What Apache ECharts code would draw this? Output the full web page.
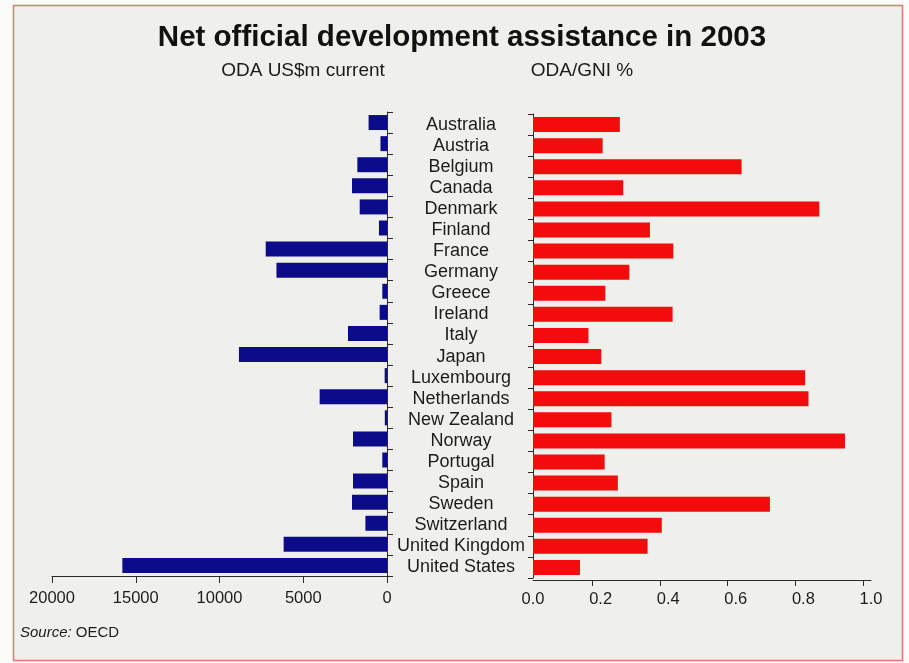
<!DOCTYPE html>
<html><head><meta charset="utf-8">
<script src="https://cdn.jsdelivr.net/npm/echarts@6/dist/echarts.min.js"></script>
<style>html,body{margin:0;padding:0;background:#fafaf8}#c{width:909px;height:663px}</style>
</head><body><div id="c"></div>
<script>
const countries = ["Australia","Austria","Belgium","Canada","Denmark","Finland","France","Germany","Greece","Ireland","Italy","Japan","Luxembourg","Netherlands","New Zealand","Norway","Portugal","Spain","Sweden","Switzerland","United Kingdom","United States"];
const odaUSDm = [1100,390,1770,2090,1630,480,7240,6600,280,440,2330,8840,140,4020,130,2030,280,2030,2090,1290,6170,15800];
const odaGNI = [0.257,0.206,0.617,0.267,0.847,0.346,0.415,0.285,0.214,0.413,0.164,0.202,0.805,0.815,0.232,0.923,0.212,0.251,0.701,0.381,0.339,0.139];
const odaAxisTicks = [0,5000,10000,15000,20000];
const gniAxisLabels = [0,0.2,0.4,0.6,0.8,1.0];
const gniAxisTickMarks = [0.176,0.376,0.576,0.776,0.976];

const chart = echarts.init(document.getElementById('c'), null, {renderer:'canvas'});
const FONT = '"Liberation Sans", Arial, Helvetica, sans-serif';
const axisCol = '#2a2a2a';
const txtCol = '#1c1c1c';

chart.setOption({
  backgroundColor: 'transparent',
  animation: false,
  textStyle: {fontFamily: FONT},
  graphic: [
    {type:'rect', z:-100, silent:true, shape:{x:13.5,y:5.5,width:889,height:655},
     style:{fill:'#efefeb', stroke:'#e07a70', lineWidth:1.5}},
    {type:'text', x:462, y:38, style:{text:'Net official development assistance in 2003', fontFamily:FONT, fontSize:29.5, fontWeight:'bold', fill:'#111', align:'center', verticalAlign:'middle'}},
    {type:'text', x:303, y:71, style:{text:'ODA US$m current', fontFamily:FONT, fontSize:19, fill:txtCol, align:'center', verticalAlign:'middle'}},
    {type:'text', x:582, y:71, style:{text:'ODA/GNI %', fontFamily:FONT, fontSize:19, fill:txtCol, align:'center', verticalAlign:'middle'}},
    {type:'text', x:20, y:633, style:{text:'{i|Source:} OECD', fontFamily:FONT, fontSize:15, fill:txtCol, verticalAlign:'middle',
      rich:{i:{fontStyle:'italic', fontFamily:FONT, fontSize:15, fill:txtCol}}}}
  ],
  grid: [
    {left:52, width:335, top:112, height:464},
    {left:533, width:338, top:114, height:464}
  ],
  xAxis: [
    {type:'value', gridIndex:0, inverse:true, min:odaAxisTicks[0], max:odaAxisTicks[odaAxisTicks.length-1], interval:5000,
     axisLine:{show:true, lineStyle:{color:axisCol, width:1}},
     axisTick:{show:true, length:7, lineStyle:{color:axisCol}},
     axisLabel:{fontSize:16.5, color:txtCol, margin:14, fontFamily:FONT, formatter: v => String(v)},
     splitLine:{show:false}},
    {type:'value', gridIndex:1, min:0, max:1, interval:0.2, offset:2,
     axisLine:{show:true, lineStyle:{color:axisCol, width:1}},
     axisTick:{show:true, length:6, lineStyle:{color:axisCol}, customValues: gniAxisTickMarks},
     axisLabel:{fontSize:16.5, color:txtCol, margin:11, fontFamily:FONT, customValues: gniAxisLabels,
       formatter: v => Number(v).toFixed(1)},
     splitLine:{show:false}}
  ],
  yAxis: [
    {type:'category', gridIndex:0, data:countries, inverse:true, position:'right',
     axisLine:{show:true, lineStyle:{color:axisCol, width:1}},
     axisTick:{show:true, length:6, interval:0, lineStyle:{color:axisCol}},
     axisLabel:{show:false, interval:0}},
    {type:'category', gridIndex:1, data:countries, inverse:true, position:'left',
     axisLine:{show:true, lineStyle:{color:axisCol, width:1}},
     axisTick:{show:true, length:5, interval:0, lineStyle:{color:axisCol}},
     axisLabel:{show:true, interval:0, align:'center', margin:72, fontSize:18, color:txtCol, fontFamily:FONT}}
  ],
  series: [
    {type:'bar', xAxisIndex:0, yAxisIndex:0, data:odaUSDm, barWidth:15, itemStyle:{color:'#0c0c8a'}},
    {type:'bar', xAxisIndex:1, yAxisIndex:1, data:odaGNI, barWidth:15, itemStyle:{color:'#f20c0c'}}
  ]
});
</script>
</body></html>
